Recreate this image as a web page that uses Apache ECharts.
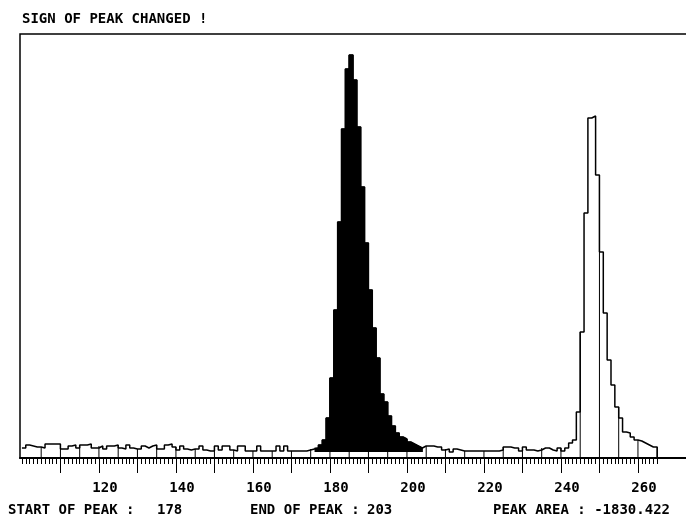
<!DOCTYPE html>
<html>
<head>
<meta charset="utf-8">
<title>Peak</title>
<script src="https://cdn.jsdelivr.net/npm/echarts@6/dist/echarts.min.js"></script>
<style>
  html, body { margin: 0; padding: 0; background: #fff; }
  #chart { width: 686px; height: 523px; }
</style>
</head>
<body>
<div id="chart"></div>
<script>
// channel numbers start here, one count per channel
const firstChannel = 100
// 100 - 175
const baseCounts = [
  10, 13, 12, 11, 11, 10, 14, 14, 14, 14,
  9, 9, 12, 13, 10, 13, 13, 14, 10, 10,
  12, 9, 12, 12, 13, 10, 9, 13, 10, 9,
  9, 12, 10, 12, 13, 9, 9, 13, 14, 11,
  8, 12, 9, 8, 9, 9, 12, 8, 7, 7,
  12, 8, 12, 12, 8, 7, 12, 12, 7, 7,
  7, 12, 7, 7, 7, 7, 12, 7, 12, 7,
  7, 7, 7, 7, 8, 9
]
// 176 - 203 (filled peak)
const peakCounts = [
  10, 13, 18, 40, 80, 148, 236, 329, 389, 403,
  378, 331, 271, 215, 168, 130, 100, 64, 56, 42,
  32, 25, 21, 19, 16, 14, 12, 10
]
// 204 - 240
const valleyCounts = [
  12, 12, 12, 11, 11, 8, 9, 6, 9, 8,
  7, 7, 7, 7, 7, 7, 7, 7, 7, 7,
  8, 11, 11, 10, 10, 7, 11, 8, 8, 7,
  8, 10, 10, 8, 7, 10, 7
]
// 241 - 264 (second peak, outline only)
const tailCounts = [
  10, 15, 18, 46, 126, 245, 340, 342, 283, 206,
  145, 98, 73, 51, 40, 26, 25, 21, 18, 17,
  15, 13, 11, 11
]
const peakFirstChannel = 176
const backgroundLevel = 6

const majorTicks = [110, 120, 130, 140, 150, 160, 170, 180, 190, 200, 210, 220, 230, 240, 250, 260]
const tickLabels = [120, 140, 160, 180, 200, 220, 240, 260]

const titleText = 'SIGN OF PEAK CHANGED !'
const startLabel = 'START OF PEAK :'
const startValue = '178'
const endLabel = 'END OF PEAK :'
const endValue = '203'
const areaText = 'PEAK AREA : -1830.422'

const counts = [...baseCounts, ...peakCounts, ...valleyCounts, ...tailCounts]
const lastChannel = firstChannel + counts.length

const outlineData = counts.map((c, i) => [firstChannel + i, c])
outlineData.push([lastChannel, 0])

const fillData = peakCounts.map((c, i) => [peakFirstChannel + i, c])
fillData.push([peakFirstChannel + peakCounts.length, backgroundLevel])

// vertical lines every 5 channels, up to the curve
const dropData = []
for (let v = firstChannel + 5; v <= lastChannel; v += 5) {
  const left = counts[v - 1 - firstChannel] || 0
  const right = counts[v - firstChannel] || 0
  dropData.push([v, Math.max(left, right)])
}

const minorTicks = []
for (let v = firstChannel; v <= lastChannel; v++) minorTicks.push(v)

const font = "bold 14px 'DejaVu Sans Mono'"
const chart = echarts.init(document.getElementById('chart'))

chart.setOption({
  animation: false,
  grid: {
    left: 20,
    top: 34,
    width: 668,
    height: 424,
    show: true,
    borderColor: '#000',
    borderWidth: 1.5,
    containLabel: false,
    outerBoundsMode: 'none'
  },
  xAxis: [
    {
      type: 'value',
      min: 99.5,
      max: 273,
      position: 'bottom',
      axisLine: { onZero: false, lineStyle: { color: '#000', width: 2 } },
      axisTick: { customValues: majorTicks, length: 15, lineStyle: { color: '#000', width: 1 } },
      axisLabel: {
        customValues: tickLabels,
        margin: 23,
        padding: [0, 0, 0, 12],
        color: '#000',
        fontFamily: 'DejaVu Sans Mono',
        fontWeight: 'bold',
        fontSize: 14
      },
      splitLine: { show: false }
    },
    {
      type: 'value',
      min: 99.5,
      max: 273,
      position: 'bottom',
      axisLine: { show: false },
      axisTick: { customValues: minorTicks, length: 6, lineStyle: { color: '#000', width: 1 } },
      axisLabel: { show: false },
      splitLine: { show: false }
    }
  ],
  yAxis: { type: 'value', min: 0, max: 424, show: false },
  graphic: [
    { type: 'text', left: 22, top: 12, style: { text: titleText, font: font, fill: '#000' } },
    { type: 'text', left: 8, top: 503, style: { text: startLabel, font: font, fill: '#000' } },
    { type: 'text', left: 157, top: 503, style: { text: startValue, font: font, fill: '#000' } },
    { type: 'text', left: 250, top: 503, style: { text: endLabel, font: font, fill: '#000' } },
    { type: 'text', left: 367, top: 503, style: { text: endValue, font: font, fill: '#000' } },
    { type: 'text', left: 493, top: 503, style: { text: areaText, font: font, fill: '#000' } }
  ],
  series: [
    {
      name: 'peak',
      type: 'line',
      step: 'end',
      data: fillData,
      showSymbol: false,
      lineStyle: { color: '#000', width: 1 },
      areaStyle: { color: '#000', opacity: 1, origin: backgroundLevel },
      silent: true
    },
    {
      name: 'counts',
      type: 'line',
      step: 'end',
      data: outlineData,
      showSymbol: false,
      lineStyle: { color: '#000', width: 1.5 },
      silent: true
    },
    {
      name: 'drops',
      type: 'bar',
      data: dropData,
      barWidth: 1,
      itemStyle: { color: '#000' },
      silent: true
    }
  ]
})
</script>
</body>
</html>
